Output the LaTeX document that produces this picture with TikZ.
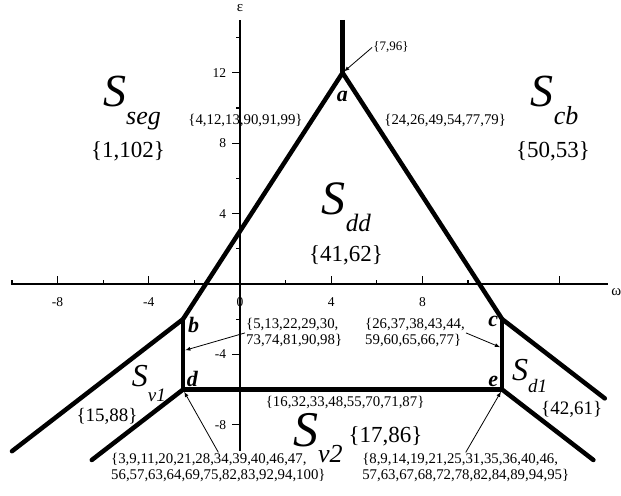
\documentclass[tikz,border=0pt]{standalone}
\usepackage{fontspec}
\setmainfont{Liberation Serif}
\usepackage{tikz}
\usetikzlibrary{arrows,calc}
\newcommand{\fs}[1]{\fontsize{#1}{#1}\selectfont}
\newcommand{\Sreg}[4]{{\fs{#1}\itshape S}\raisebox{-#3pt}{\fs{#2}\itshape #4}}

\begin{document}
\begin{tikzpicture} [x = 22.8pt, y = 17.6pt,
	bound/.style = {line width = 4.5pt, line cap = round},
	axis/.style = {line width = 1.2pt},
	pointer/.style = {-latex, line width = 0.8pt},
	vtx/.style = {font = \fs{22}\bfseries\itshape, anchor = base west, inner sep = 0pt},
	list/.style = {font = \fontsize{14.8}{16}\selectfont, inner sep = 1pt, align = left},
	setbig/.style = {font = \fs{23}, inner sep = 0pt},
	setmid/.style = {font = \fs{19}, inner sep = 0pt},
	region/.style = {anchor = base west, inner sep = 0pt},
	ticklab/.style = {font = \fs{13.5}, inner sep = 0pt}]
	\useasboundingbox (-10.526,-12.045) rectangle (16.711,16.136);
	% axes
	\draw [axis] (-10.05,0) -- (16.15,0);
	\draw [axis] (0,-9.5) -- (0,15);
	\node [font = \fs{15}] (omega) at (16.5,-0.45) {ω};
	\node [font = \fs{15}] (eps) at (0,15.7) {ε};
	\foreach \x in {-8,-4,4,8,14} \draw [axis] (\x,0) -- (\x,0.45);
	\foreach \x in {-10,-6,-2,2,6,10} \draw [axis] (\x,0) -- (\x,0.23);
	\foreach \y in {-8,-4,4,8,12} \draw [axis] (0,\y) -- (-0.35,\y);
	\foreach \y in {-6,-2,2,6,10,14} \draw [axis] (0,\y) -- (-0.18,\y);
	\foreach \x in {-8,-4,0,4,8} \node [ticklab] (xl\x) at (\x,-1.05) {\x};
	\foreach \y in {-8,-4,4,8,12} \node [ticklab, anchor = east] (yl\y) at (-0.6,\y) {\y};
	% vertices
	\coordinate (a) at (4.5,12);
	\coordinate (b) at (-2.5,-2);
	\coordinate (c) at (11.5,-2);
	\coordinate (d) at (-2.5,-6);
	\coordinate (e) at (11.5,-6);
	\coordinate (atop) at (4.5,15);
	\coordinate (bout) at (-10,-9.5);
	\coordinate (dout) at (-6.5,-10);
	\coordinate (cout) at (16,-6.5);
	\coordinate (eout) at (15.5,-10);
	\draw [bound, line cap = butt] (atop) -- (a);
	\draw [bound] (bout) -- (b) -- (a) -- (c) -- (cout);
	\draw [bound] (b) -- (d) -- (e) -- (c);
	\draw [bound] (dout) -- (d);
	\draw [bound] (e) -- (eout);
	\node [vtx] (la) at (4.24,10.36) {a};
	\node [vtx] (lb) at (-2.28,-2.78) {b};
	\node [vtx] (lc) at (10.88,-2.44) {c};
	\node [vtx] (ld) at (-2.34,-5.8) {d};
	\node [vtx] (le) at (10.88,-5.8) {e};
	% regions
	\node [region] (Sseg) at (-6.01,10.11) {\Sreg{46}{26}{18}{seg}};
	\node [region] (Scb) at (12.75,10.11) {\Sreg{46}{26}{18}{cb}};
	\node [region] (Sdd) at (3.58,3.92) {\Sreg{48}{25}{17}{dd}};
	\node [region] (Sv1) at (-4.75,-5.84) {\Sreg{32}{19}{15}{v1}};
	\node [region] (Sd1) at (11.93,-5.51) {\Sreg{32}{19}{12}{d1}};
	\node [region] (Sv2) at (2.32,-9.26) {\Sreg{50}{26}{16}{v2}};
	\node [setbig] (nseg) at (-4.91,7.53) {\{1,102\}};
	\node [setbig] (ncb) at (13.73,7.53) {\{50,53\}};
	\node [setbig] (ndd) at (4.65,1.65) {\{41,62\}};
	\node [setbig] (nv2) at (6.38,-8.64) {\{17,86\}};
	\node [setmid] (nv1) at (-5.83,-7.5) {\{15,88\}};
	\node [setmid] (nd1) at (14.55,-7.15) {\{42,61\}};
	% edge lists
	\node [list, font = \fs{13}] (La) at (6.62,13.44) {\{7,96\}};
	\node [list] (Lab) at (0.24,9.29) {\{4,12,13,90,91,99\}};
	\node [list] (Lac) at (9.0,9.29) {\{24,26,49,54,77,79\}};
	\node [list] (Lde) at (4.61,-6.73) {\{16,32,33,48,55,70,71,87\}};
	\node [list, anchor = west] (Lbd) at (0.22,-2.78) {\{5,13,22,29,30,\\73,74,81,90,98\}};
	\node [list, anchor = west] (Lce) at (5.44,-2.78) {\{26,37,38,43,44,\\59,60,65,66,77\}};
	\node [list, anchor = west] (Ld) at (-5.7,-10.45) {\{3,9,11,20,21,28,34,39,40,46,47,\\56,57,63,64,69,75,82,83,92,94,100\}};
	\node [list, anchor = west] (Le) at (5.31,-10.45) {\{8,9,14,19,21,25,31,35,36,40,46,\\57,63,67,68,72,78,82,84,89,94,95\}};
	\draw [pointer, shorten >= 2pt] (La.west) -- (a);
	\draw [pointer, shorten >= 2.3pt] (Lbd.west) -- ($(b)!0.45!(d)$);
	\draw [pointer, shorten >= 2.3pt] (Lce.east) -- ($(c)!0.41!(e)$);
	\draw [pointer, shorten >= 2.5pt] (Ld.north) -- (d);
	\draw [pointer, shorten >= 2.5pt] (Le.north) -- (e);
\end{tikzpicture}
\end{document}
